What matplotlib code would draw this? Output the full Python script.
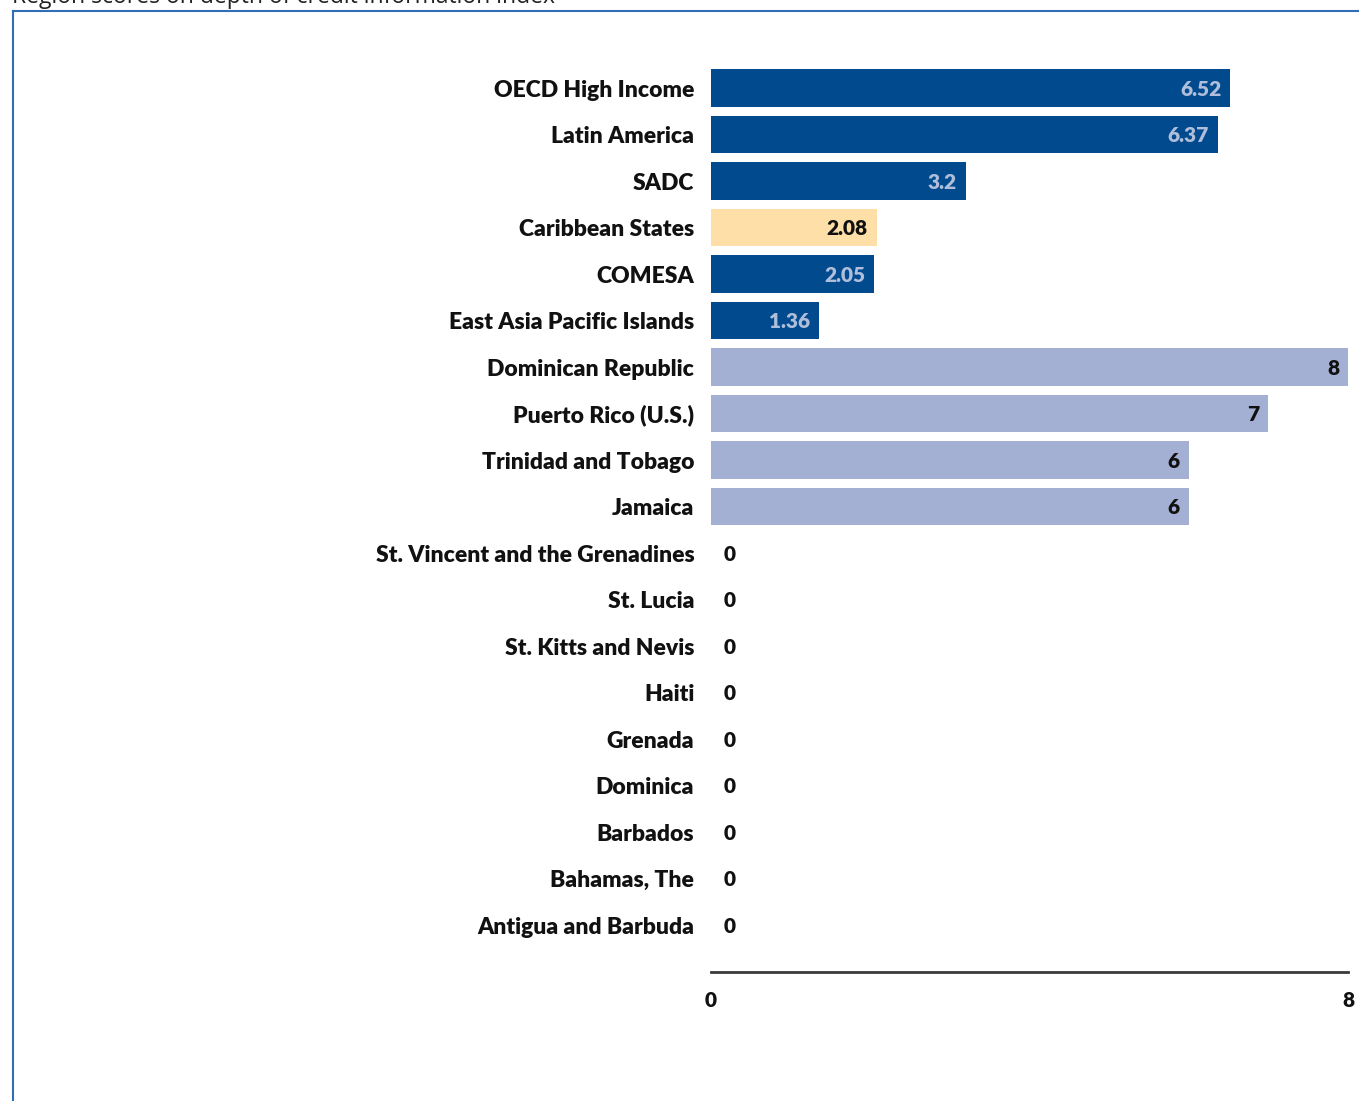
import matplotlib
matplotlib.use("Agg")
import matplotlib.pyplot as plt
from matplotlib.lines import Line2D

categories = ["OECD High Income", "Latin America", "SADC", "Caribbean States", "COMESA",
              "East Asia Pacific Islands", "Dominican Republic", "Puerto Rico (U.S.)",
              "Trinidad and Tobago", "Jamaica", "St. Vincent and the Grenadines", "St. Lucia",
              "St. Kitts and Nevis", "Haiti", "Grenada", "Dominica", "Barbados",
              "Bahamas, The", "Antigua and Barbuda"]
values = [6.52, 6.37, 3.2, 2.08, 2.05, 1.36, 8, 7, 6, 6, 0, 0, 0, 0, 0, 0, 0, 0, 0]
value_labels = ["6.52", "6.37", "3.2", "2.08", "2.05", "1.36", "8", "7", "6", "6",
                "0", "0", "0", "0", "0", "0", "0", "0", "0"]
groups = ["region"] * 3 + ["highlight"] + ["region"] * 2 + ["economy"] * 13
x_ticks = [0, 8]
title = "Region scores on depth of credit information index"

bar_colors = {"region": "#004A8D", "highlight": "#FFDFA8", "economy": "#A3B0D3"}
text_colors = {"region": "#AFBEDB", "highlight": "#111111", "economy": "#111111"}

W, H = 1359, 1101
fig = plt.figure(figsize=(W / 100, H / 100), dpi=100)

FONT = "Lato"
WEIGHT = "heavy"

ax = fig.add_axes([711 / W, 1 - 972 / H, 637 / W, (972 - 64.75) / H])
ypos = list(range(len(categories)))
ax.barh(ypos, values, height=0.8, color=[bar_colors[g] for g in groups],
        edgecolor="none")
ax.set_xlim(0, 8)
ax.set_ylim(19.01, -0.5)

for y, v, lab, g in zip(ypos, values, value_labels, groups):
    if v > 0:
        ax.annotate(lab, (v, y), xytext=(-9, -1), textcoords="offset pixels",
                    ha="right", va="center", fontsize=15, fontweight=WEIGHT,
                    color=text_colors[g], family=FONT)
    else:
        ax.annotate(lab, (v, y), xytext=(13, -1), textcoords="offset pixels",
                    ha="left", va="center", fontsize=15, fontweight=WEIGHT,
                    color="#111111", family=FONT)

ax.set_yticks(ypos)
ax.set_yticklabels(categories, fontsize=16.5, fontweight=WEIGHT, family=FONT, color="#111111")
ax.tick_params(axis="y", length=0, pad=12)
ax.set_xticks(x_ticks)
ax.set_xticklabels([str(t) for t in x_ticks], fontsize=15, fontweight=WEIGHT,
                   family=FONT, color="#111111")
ax.tick_params(axis="x", length=0, pad=14)
for s in ["top", "right", "left"]:
    ax.spines[s].set_visible(False)
ax.spines["bottom"].set_color("#3a3a3a")
ax.spines["bottom"].set_linewidth(2)

# frame border
fig.add_artist(Line2D([12.5 / W, 12.5 / W], [0, 1 - 10.5 / H], color="#2F6DB5", lw=1.5))
fig.add_artist(Line2D([12.5 / W, 1], [1 - 10.5 / H, 1 - 10.5 / H], color="#2F6DB5", lw=1.5))

fig.text(12 / W, 1 - 3 / H, title, ha="left", va="baseline", fontsize=16.5,
         family="Open Sans", color="#222222")

fig.savefig("out.png", dpi=100)
